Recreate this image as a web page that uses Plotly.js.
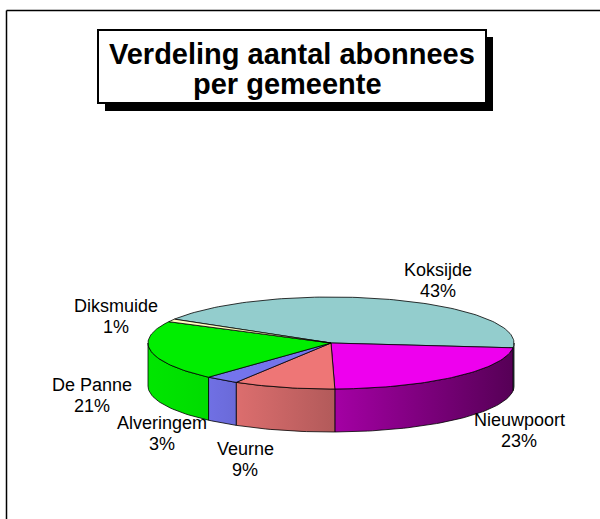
<!DOCTYPE html>
<html>
<head>
<meta charset="utf-8">
<script src="https://cdn.plot.ly/plotly-3.0.1.min.js"></script>
<style>html,body{margin:0;padding:0;background:#fff;}#chart{width:600px;height:519px;}</style>
</head>
<body>
<div id="chart"></div>
<script>
// ---- data ----
const categories = ['Koksijde', 'Nieuwpoort', 'Veurne', 'Alveringem', 'De Panne', 'Diksmuide'];
const values = [43, 23, 9, 3, 21, 1];
const percentLabels = ['43%', '23%', '9%', '3%', '21%', '1%'];
const titleLines = ['Verdeling aantal abonnees', 'per gemeente'];

// ---- styles / geometry (not data) ----
const topColors = ['#93CDCD', '#EE00EE', '#EE7676', '#7474EC', '#00EE00', '#FFFFC0'];
const sideColors = [
  [[0, '#6FA3A3'], [1, '#5E8E8E']],
  [[0, '#A400A4'], [1, '#560056']],
  [[0, '#DC6E6E'], [1, '#B25A5A']],
  [[0, '#7070E4'], [1, '#6A6AD8']],
  [[0, '#00E600'], [1, '#00DC00']],
  [[0, '#E8E8B0'], [1, '#E0E0A8']]
];
const labelX = [438, 519, 245, 162, 92, 116];
const labelY = [270, 420, 449, 423, 385, 306];
const lineGap = 21;
const cx = 331, cy = 343, rx = 183, ry = 46, depth = 43;
const startAngle = 148.8; // degrees, slices go clockwise

const total = values.reduce((a, b) => a + b, 0);
const rad = d => d * Math.PI / 180;
const px = a => cx + rx * Math.cos(rad(a));
const py = a => cy - ry * Math.sin(rad(a));

function arc(a1, a2, dy) {
  const xs = [], ys = [];
  const n = Math.max(2, Math.ceil(Math.abs(a1 - a2) / 1.5));
  for (let i = 0; i <= n; i++) {
    const a = a1 + (a2 - a1) * i / n;
    xs.push(px(a)); ys.push(py(a) + dy);
  }
  return [xs, ys];
}

const sideTraces = [], topTraces = [];
let a = startAngle;
values.forEach((v, i) => {
  const span = v / total * 360;
  const aHi = a, aLo = a - span;
  a = aLo;
  // visible front walls: angle range [-180, 0]
  const hi = Math.min(aHi, 0), lo = Math.max(aLo, -180);
  if (hi > lo) {
    const [tx, ty] = arc(hi, lo, 0);
    const [bx, by] = arc(lo, hi, depth);
    sideTraces.push({
      type: 'scatter', mode: 'lines', x: tx.concat(bx, [tx[0]]), y: ty.concat(by, [ty[0]]),
      fill: 'toself', fillgradient: {type: 'horizontal', colorscale: sideColors[i]},
      line: {color: '#000', width: 0.8}, hoverinfo: 'skip', showlegend: false
    });
  }
  const [ax, ay] = arc(aHi, aLo, 0);
  topTraces.push({
    type: 'scatter', mode: 'lines', x: [cx].concat(ax, [cx]), y: [cy].concat(ay, [cy]),
    fill: 'toself', fillcolor: topColors[i], name: categories[i],
    line: {color: '#000', width: 0.8}, hoverinfo: 'name', showlegend: false
  });
});

const font = {family: 'Liberation Sans, Arial, sans-serif', size: 18, color: '#000'};
const annotations = [];
categories.forEach((c, i) => {
  annotations.push({x: labelX[i], y: labelY[i], xref: 'x', yref: 'y', text: c, showarrow: false, font: font, xanchor: 'center', yanchor: 'middle'});
  annotations.push({x: labelX[i], y: labelY[i] + lineGap, xref: 'x', yref: 'y', text: percentLabels[i], showarrow: false, font: font, xanchor: 'center', yanchor: 'middle'});
});
const tfont = {family: 'Liberation Sans, Arial, sans-serif', size: 29, color: '#000', weight: 'bold'};
annotations.push({x: 292, y: 54, xref: 'x', yref: 'y', text: '<b>' + titleLines[0] + '</b>', showarrow: false, font: tfont, xanchor: 'center', yanchor: 'middle'});
annotations.push({x: 287, y: 84, xref: 'x', yref: 'y', text: '<b>' + titleLines[1] + '</b>', showarrow: false, font: tfont, xanchor: 'center', yanchor: 'middle'});

const shapes = [
  {type: 'rect', xref: 'x', yref: 'y', x0: 105, y0: 37, x1: 493, y1: 111, fillcolor: '#000', line: {width: 0}, layer: 'below'},
  {type: 'rect', xref: 'x', yref: 'y', x0: 98, y0: 30, x1: 486, y1: 103, fillcolor: '#fff', line: {color: '#000', width: 2}, layer: 'below'},
  {type: 'line', xref: 'x', yref: 'y', x0: 6.5, y0: 10.5, x1: 600, y1: 10.5, line: {color: '#000', width: 1.5}},
  {type: 'line', xref: 'x', yref: 'y', x0: 6.5, y0: 10.5, x1: 6.5, y1: 519, line: {color: '#000', width: 1.5}}
];

const layout = {
  width: 600, height: 519,
  margin: {l: 0, r: 0, t: 0, b: 0},
  paper_bgcolor: '#fff', plot_bgcolor: '#fff',
  xaxis: {range: [0, 600], visible: false, fixedrange: true},
  yaxis: {range: [519, 0], visible: false, fixedrange: true},
  shapes: shapes,
  annotations: annotations,
  showlegend: false
};
Plotly.newPlot('chart', sideTraces.concat(topTraces), layout, {displayModeBar: false, staticPlot: true});
</script>
</body>
</html>
